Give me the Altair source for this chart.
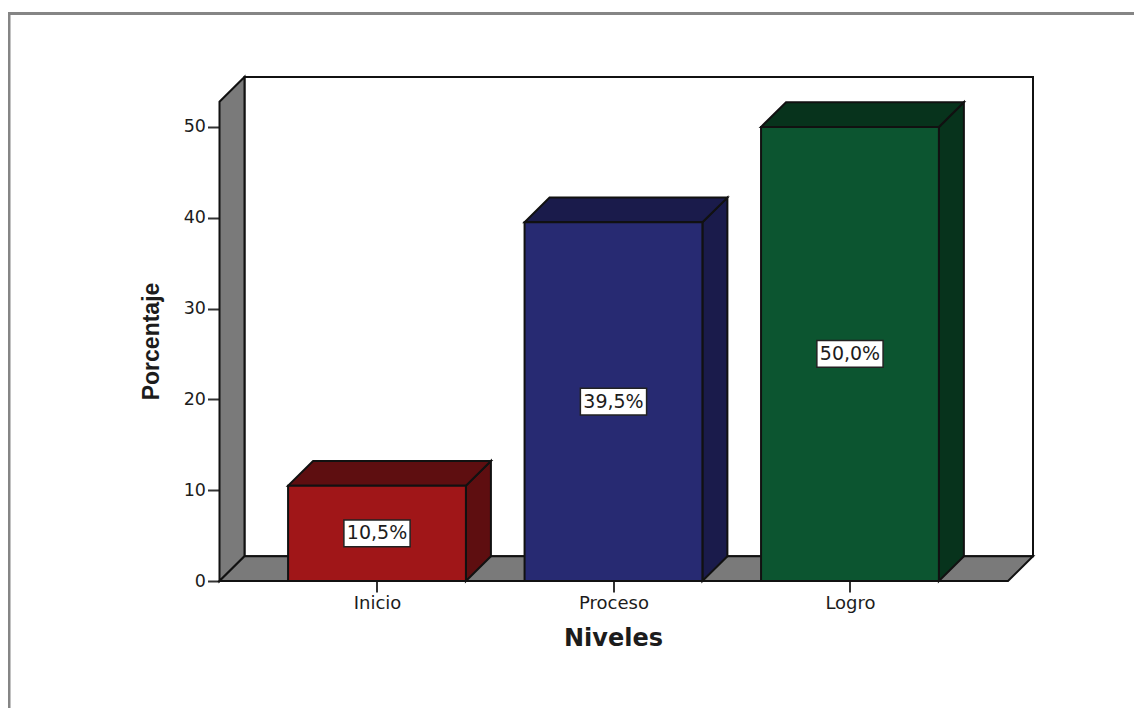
import json
import altair as alt
import pandas as pd

niveles = ["Inicio", "Proceso", "Logro"]
porcentajes = [10.5, 39.5, 50.0]
etiquetas = ["10,5%", "39,5%", "50,0%"]
frente = ["#A01618", "#272A72", "#0C5530"]
oscuro = ["#5E0E10", "#1A1B4B", "#07331C"]
marcas_y = [0, 10, 20, 30, 40, 50]

X_MIN, X_MAX = 0.334, 3.774
Y_MAX = 55.5
DX, DY = 0.1057, 2.72
HALF = 0.376
BOX_W, BOX_H = 0.14, 1.47
GRIS = "#7A7A7A"
FUENTE = "DejaVu Sans"
TINTA = "#1c1c1c"

xs = alt.Scale(domain=[X_MIN, X_MAX], nice=False, zero=False)
ys = alt.Scale(domain=[0, Y_MAX], nice=False, zero=True)

expr = json.dumps(niveles) + "[datum.value - 1]"
eje_x = alt.Axis(
    values=[1, 2, 3], labelExpr=expr, title="Niveles", grid=False, domain=False,
    tickSize=11, tickWidth=2, tickColor="#333333", labelFont=FUENTE, labelFontSize=18,
    labelColor=TINTA, labelPadding=2, titleFont=FUENTE, titleFontSize=24,
    titleFontWeight="bold", titleColor=TINTA, titleX=393.5, titleY=57,
    titleBaseline="middle", titleAlign="center")
eje_y = alt.Axis(
    values=marcas_y, title="Porcentaje", grid=False, domain=False,
    tickSize=12, tickWidth=2, tickColor="#333333", labelFont=FUENTE, labelFontSize=17.5,
    labelColor=TINTA, labelPadding=2, titleFont="Liberation Sans", titleFontSize=23,
    titleFontWeight="bold", titleColor=TINTA, titleX=-68, titleY=264,
    titleBaseline="middle", titleAlign="center", titleAngle=270)


def poligono(df, relleno=None):
    kw = dict(stroke="#111111", strokeWidth=2, strokeJoin="miter", clip=False)
    if relleno:
        kw["fill"] = relleno
    enc = dict(
        x=alt.X("x:Q", scale=xs, axis=eje_x),
        y=alt.Y("y:Q", scale=ys, axis=eje_y),
        y2="y2:Q",
    )
    if not relleno:
        enc["fill"] = alt.Fill("c:N", scale=None)
        enc["detail"] = "g:N"
    return alt.Chart(df).mark_area(**kw).encode(**enc)


pared = pd.DataFrame({"x": [X_MIN + DX, X_MAX], "y": [DY, DY], "y2": [Y_MAX, Y_MAX]})
izq = pd.DataFrame({"x": [X_MIN, X_MIN + DX], "y": [0, DY], "y2": [Y_MAX - DY, Y_MAX]})
suelo = pd.DataFrame({
    "x": [X_MIN, X_MIN + DX, X_MAX - DX, X_MAX],
    "y": [0, 0, 0, DY],
    "y2": [0, DY, DY, DY],
})

tapas, lados, frentes, cajas = [], [], [], []
for i, (n, v, e, f, o) in enumerate(zip(niveles, porcentajes, etiquetas, frente, oscuro)):
    c = i + 1
    x0, x1 = c - HALF, c + HALF
    tapas += [
        dict(g=n, c=o, x=x0, y=v, y2=v),
        dict(g=n, c=o, x=x0 + DX, y=v, y2=v + DY),
        dict(g=n, c=o, x=x1, y=v, y2=v + DY),
        dict(g=n, c=o, x=x1 + DX, y=v + DY, y2=v + DY),
    ]
    lados += [
        dict(g=n, c=o, x=x1, y=0, y2=v),
        dict(g=n, c=o, x=x1 + DX, y=DY, y2=v + DY),
    ]
    frentes += [
        dict(g=n, c=f, x=x0, y=0, y2=v),
        dict(g=n, c=f, x=x1, y=0, y2=v),
    ]
    cajas.append(dict(
        x=c - BOX_W, x2=c + BOX_W, xc=c, y=v / 2 - BOX_H, y2=v / 2 + BOX_H, yc=v / 2, t=e,
    ))
cajas = pd.DataFrame(cajas)

marco = alt.Chart(pd.DataFrame({"a": [0]}))
linea_sup = marco.mark_rule(color="#858585", strokeWidth=3).encode(
    x=alt.value(-211), x2=alt.value(923), y=alt.value(-63.5))
linea_izq = marco.mark_rule(color="#858585", strokeWidth=3).encode(
    x=alt.value(-210.5), y=alt.value(-65), y2=alt.value(640))

rect = alt.Chart(cajas).mark_rect(fill="white", stroke="#222222", strokeWidth=1.5).encode(
    x=alt.X("x:Q", scale=xs, axis=eje_x), x2="x2:Q",
    y=alt.Y("y:Q", scale=ys, axis=eje_y), y2="y2:Q",
)
texto = alt.Chart(cajas).mark_text(font=FUENTE, fontSize=19, color=TINTA, baseline="middle").encode(
    x=alt.X("xc:Q", scale=xs, axis=eje_x),
    y=alt.Y("yc:Q", scale=ys, axis=eje_y),
    text="t:N",
)

chart = alt.layer(
    linea_sup, linea_izq,
    poligono(pared, "white"), poligono(izq, GRIS), poligono(suelo, GRIS),
    poligono(pd.DataFrame(lados)), poligono(pd.DataFrame(tapas)), poligono(pd.DataFrame(frentes)),
    rect, texto,
).properties(
    width=813.5,
    height=504,
    autosize=alt.AutoSizeParams(type="none"),
    padding={"left": 211.5, "top": 69, "right": 101, "bottom": 127},
    background="white",
).configure_view(stroke=None)

chart.save("out.html", embed_options={"renderer": "svg", "actions": False})
